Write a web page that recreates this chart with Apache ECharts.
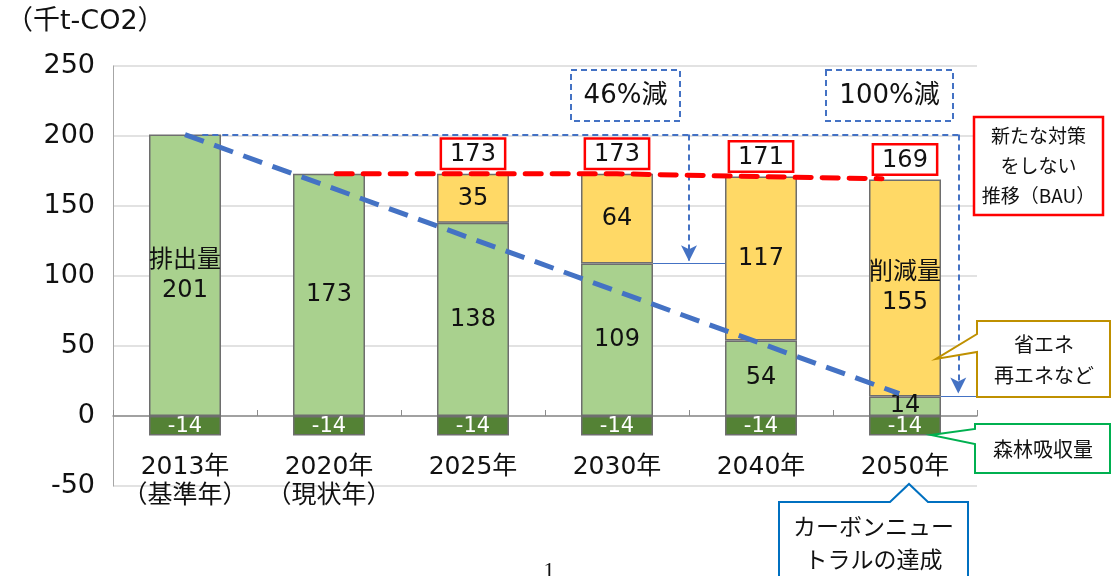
<!DOCTYPE html>
<html><head><meta charset="utf-8">
<script src="https://cdn.jsdelivr.net/npm/echarts@6/dist/echarts.min.js"></script>
<style>html,body{margin:0;padding:0;background:#fff}#c{width:1112px;height:576px}</style>
</head><body><div id="c"></div>
<script>
const categories = ['2013年\n（基準年）', '2020年\n（現状年）', '2025年', '2030年', '2040年', '2050年'];
const emissions = [201, 173, 138, 109, 54, 14];
const reductions = [null, null, 35, 64, 117, 155];
const forest = [-14, -14, -14, -14, -14, -14];
const bauTotals = [null, null, 173, 173, 171, 169];
const yTicks = { min: -50, max: 250, interval: 50 };
// line points as [category position, value]
const bauLine = [[1.05, 173], [2, 173], [3, 173], [4, 171], [4.84, 169.5]];
const targetLine = [[0, 201], [4.96, 16]];
const target2030 = { x: 3.5, from: 201, to: 110.5, level: 109 };
const target2050 = { x: 5.37, from: 201, to: 16, level: 14 };

const FONT = '"DejaVu Sans", "Noto Sans CJK JP", sans-serif';
const JFONT = '"Noto Sans CJK JP", "DejaVu Sans", sans-serif';
const BLUE = '#4472C4';
const chart = echarts.init(document.getElementById('c'));

const greenLabels = emissions.map((v, i) => i === 0 ? '排出量\n' + v : String(v));
const yellowLabels = reductions.map((v, i) => i === 5 ? '削減量\n' + v : (v == null ? '' : String(v)));

chart.setOption({
  animation: false,
  textStyle: { fontFamily: FONT },
  grid: { left: 113, right: 135, top: 66, bottom: 90, outerBoundsMode: 'none', containLabel: false },
  xAxis: [{
    type: 'category', data: categories,
    axisLine: { onZero: true, onZeroAxisIndex: 0, lineStyle: { color: '#8c8c8c', width: 1.5 } },
    axisTick: { show: true, inside: true, length: 6, interval: 0, lineStyle: { color: '#8c8c8c' } },
    axisLabel: { interval: 0, fontSize: 25, color: '#111', lineHeight: 29, margin: -33, fontFamily: FONT, verticalAlign: 'top' }
  }, {
    type: 'value', min: -0.5, max: 5.5, show: false, position: 'bottom',
    axisLine: { onZero: false }
  }],
  yAxis: {
    type: 'value', min: yTicks.min, max: yTicks.max, interval: yTicks.interval,
    axisLine: { show: true, onZero: false, lineStyle: { color: '#a6a6a6' } },
    axisTick: { show: false },
    splitLine: { lineStyle: { color: '#d9d9d9', width: 1.5 } },
    axisLabel: { fontSize: 27, color: '#111', margin: 18, fontFamily: FONT }
  },
  series: [
    {
      type: 'bar', stack: 's', data: emissions, barWidth: '50%',
      itemStyle: { color: '#A9D18E', borderColor: '#6e6e6e', borderWidth: 1.5 },
      label: { show: true, position: 'inside', fontSize: 24, color: '#111', lineHeight: 30,
        formatter: p => greenLabels[p.dataIndex] }
    },
    {
      type: 'bar', stack: 's', data: reductions,
      itemStyle: { color: '#FFD966', borderColor: '#6e6e6e', borderWidth: 1.5 },
      label: { show: true, position: 'inside', fontSize: 24, color: '#111', lineHeight: 30,
        formatter: p => yellowLabels[p.dataIndex] }
    },
    {
      type: 'bar', stack: 's', data: forest,
      itemStyle: { color: '#548235', borderColor: '#6e6e6e', borderWidth: 1.5 },
      label: { show: true, position: 'inside', fontSize: 21, color: '#fff', offset: [0, 1] }
    },
    {
      type: 'bar', data: bauTotals, barGap: '-100%', barWidth: '50%', z: 1,
      itemStyle: { color: 'rgba(0,0,0,0)' },
      label: { show: true, position: 'top', distance: 6, fontSize: 24, color: '#111',
        backgroundColor: '#fff', borderColor: '#FF0000', borderWidth: 2.5,
        padding: [2, 8, 0, 8], lineHeight: 26 }
    },
    {
      type: 'line', xAxisIndex: 1, data: bauLine, symbol: 'none', z: 5,
      lineStyle: { color: '#FF0000', width: 5, type: [16, 11], cap: 'round' }
    },
    {
      type: 'line', xAxisIndex: 1, data: targetLine, symbol: 'none', z: 6,
      lineStyle: { color: BLUE, width: 5, type: [20, 11] }
    },
    {
      type: 'line', xAxisIndex: 1, data: [], symbol: 'none', z: 4,
      markLine: {
        silent: true, animation: false, label: { show: false },
        symbolSize: [12, 16],
        lineStyle: { color: BLUE, width: 2, type: [6, 4] },
        data: [
          [{ coord: [0.12, 201], symbol: 'none' }, { coord: [target2050.x, 201], symbol: 'none' }],
          [{ coord: [target2030.x, target2030.from], symbol: 'none' }, { coord: [target2030.x, target2030.to], symbol: 'arrow' }],
          [{ coord: [target2050.x, target2050.from], symbol: 'none' }, { coord: [target2050.x, target2050.to], symbol: 'arrow' }],
          [{ coord: [3.25, target2030.level], symbol: 'none', lineStyle: { type: 'solid', width: 1 } }, { coord: [3.75, target2030.level], symbol: 'none' }],
          [{ coord: [5.25, target2050.level], symbol: 'none', lineStyle: { type: 'solid', width: 1 } }, { coord: [5.5, target2050.level], symbol: 'none' }]
        ]
      }
    }
  ],
  graphic: [
    { type: 'text', left: 6, top: 8, style: { text: '（千t-CO2）', fontSize: 27, fill: '#111', fontFamily: FONT } },
    { type: 'rect', shape: { x: 571, y: 70, width: 109, height: 51 }, style: { fill: '#fff', stroke: BLUE, lineWidth: 2, lineDash: [6, 4] }, z: 10 },
    { type: 'text', x: 625.5, y: 96, style: { text: '46%減', fontSize: 26, fill: '#111', align: 'center', verticalAlign: 'middle', fontFamily: FONT }, z: 11 },
    { type: 'rect', shape: { x: 826, y: 70, width: 127, height: 51 }, style: { fill: '#fff', stroke: BLUE, lineWidth: 2, lineDash: [6, 4] }, z: 10 },
    { type: 'text', x: 889.5, y: 96, style: { text: '100%減', fontSize: 26, fill: '#111', align: 'center', verticalAlign: 'middle', fontFamily: FONT }, z: 11 },
    { type: 'rect', shape: { x: 974, y: 117, width: 129, height: 98 }, style: { fill: '#fff', stroke: '#FF0000', lineWidth: 2.5 }, z: 10 },
    { type: 'text', x: 1038.5, y: 166, style: { text: '新たな対策\nをしない\n推移（BAU）', fontSize: 19, lineHeight: 30, fill: '#111', align: 'center', verticalAlign: 'middle', fontFamily: JFONT }, z: 11 },
    { type: 'polygon', shape: { points: [[977, 321], [1110, 321], [1110, 397], [977, 397], [977, 352], [936, 359], [977, 334]] }, style: { fill: '#fff', stroke: '#BF9000', lineWidth: 2 }, z: 10 },
    { type: 'text', x: 1044, y: 360, style: { text: '省エネ\n再エネなど', fontSize: 20, lineHeight: 31, fill: '#111', align: 'center', verticalAlign: 'middle', fontFamily: JFONT }, z: 11 },
    { type: 'polygon', shape: { points: [[975, 424], [1110, 424], [1110, 473], [975, 473], [975, 444], [931, 435], [975, 429]] }, style: { fill: '#fff', stroke: '#00B050', lineWidth: 2 }, z: 10 },
    { type: 'text', x: 1043, y: 449, style: { text: '森林吸収量', fontSize: 20, fill: '#111', align: 'center', verticalAlign: 'middle', fontFamily: JFONT }, z: 11 },
    { type: 'polygon', shape: { points: [[779, 502], [890, 502], [909, 484], [928, 502], [968, 502], [968, 590], [779, 590]] }, style: { fill: '#fff', stroke: '#0070C0', lineWidth: 2 }, z: 10 },
    { type: 'text', x: 873.5, y: 543, style: { text: 'カーボンニュー\nトラルの達成', fontSize: 23, lineHeight: 33, fill: '#111', align: 'center', verticalAlign: 'middle', fontFamily: JFONT }, z: 11 },
    { type: 'text', x: 549, y: 571, style: { text: '1', fontSize: 22, fill: '#111', align: 'center', verticalAlign: 'middle', fontFamily: '"Liberation Serif", serif' }, z: 11 }
  ]
});
</script></body></html>
